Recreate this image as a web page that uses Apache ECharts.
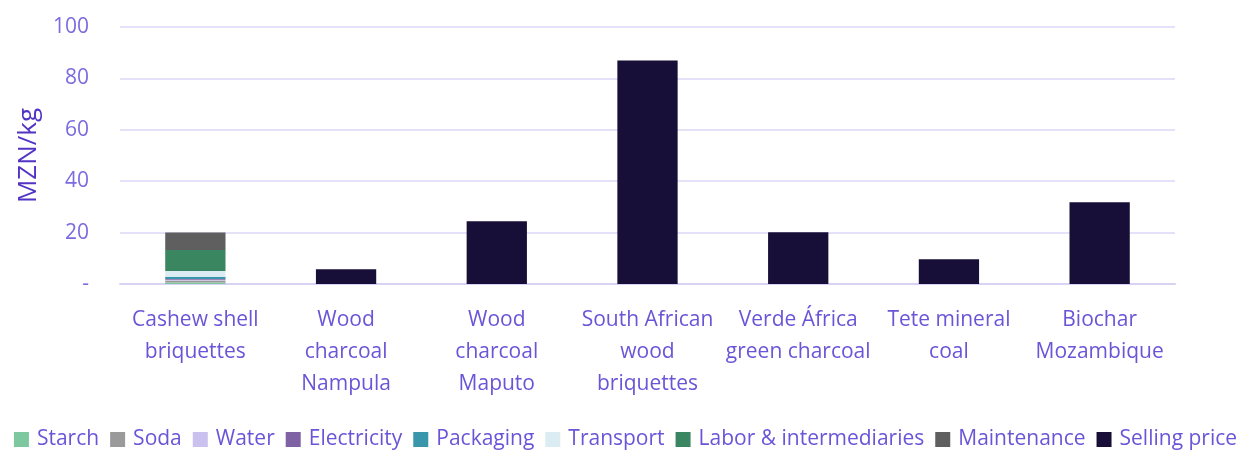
<!DOCTYPE html>
<html>
<head>
<meta charset="utf-8">
<script src="https://cdn.jsdelivr.net/npm/echarts@6/dist/echarts.min.js"></script>
<style>
  html, body { margin: 0; padding: 0; background: #ffffff; }
  #chart { width: 1251px; height: 451px; }
</style>
</head>
<body>
<div id="chart"></div>
<script>
// Fuel cost comparison, MZN per kg
const categories = [
  'Cashew shell\nbriquettes',
  'Wood\ncharcoal\nNampula',
  'Wood\ncharcoal\nMaputo',
  'South African\nwood\nbriquettes',
  'Verde África\ngreen charcoal',
  'Tete mineral\ncoal',
  'Biochar\nMozambique'
];

// Production cost breakdown (cashew shell briquettes only)
const starch      = [0.6, null, null, null, null, null, null];
const soda        = [0.8, null, null, null, null, null, null];
const water       = [0.3, null, null, null, null, null, null];
const electricity = [0.2, null, null, null, null, null, null];
const packaging   = [0.9, null, null, null, null, null, null];
const transport   = [2.3, null, null, null, null, null, null];
const labor       = [8.1, null, null, null, null, null, null];
const maintenance = [6.8, null, null, null, null, null, null];

// Market selling prices of the other fuels
const sellingPrice = [null, 5.7, 24.4, 87.0, 20.1, 9.6, 31.8];

const yTicks = [0, 20, 40, 60, 80, 100];

const seriesDefs = [
  ['Starch', starch, '#7ec8a0'],
  ['Soda', soda, '#9a9a9a'],
  ['Water', water, '#cbc1ef'],
  ['Electricity', electricity, '#7f62a3'],
  ['Packaging', packaging, '#3a96aa'],
  ['Transport', transport, '#dbedf3'],
  ['Labor & intermediaries', labor, '#3a8660'],
  ['Maintenance', maintenance, '#5f5f5f'],
  ['Selling price', sellingPrice, '#170f37']
];

const fontFamily = '"Open Sans", "Noto Sans", sans-serif';
const chart = echarts.init(document.getElementById('chart'), null, { renderer: 'canvas' });

chart.setOption({
  animation: false,
  backgroundColor: '#ffffff',
  grid: { left: 120, right: 76, top: 27, bottom: 167, containLabel: false },
  legend: {
    bottom: -4,
    left: 'center',
    itemWidth: 15,
    itemHeight: 15,
    itemGap: 11,
    icon: 'rect',
    textStyle: { color: '#6a55d8', fontSize: 21, fontFamily: fontFamily, padding: [0, 0, 0, 3] },
    data: seriesDefs.map(d => d[0])
  },
  xAxis: {
    type: 'category',
    data: categories,
    axisLine: { show: true, lineStyle: { color: '#d8d2f4', width: 2 } },
    axisTick: { show: false },
    axisLabel: {
      color: '#6a55d8',
      fontSize: 21,
      lineHeight: 32,
      fontFamily: fontFamily,
      margin: 20,
      interval: 0
    }
  },
  yAxis: {
    type: 'value',
    min: 0,
    max: 100,
    interval: 20,
    name: 'MZN/kg',
    nameLocation: 'middle',
    nameGap: 77,
    nameTextStyle: { color: '#5233c4', fontSize: 26, fontWeight: 500, fontFamily: fontFamily },
    axisLine: { show: false },
    axisTick: { show: false },
    splitLine: { lineStyle: { color: '#dcd7f6', width: 1.5 } },
    axisLabel: {
      color: '#7b6be0',
      fontSize: 21,
      fontFamily: fontFamily,
      margin: 31,
      formatter: v => (yTicks.includes(v) && v === 0 ? '-' : String(v))
    }
  },
  series: seriesDefs.map(([name, values, color]) => ({
    name: name,
    type: 'bar',
    stack: 'total',
    barWidth: '40%',
    data: values,
    itemStyle: { color: color },
    emphasis: { disabled: true }
  }))
});
</script>
</body>
</html>
